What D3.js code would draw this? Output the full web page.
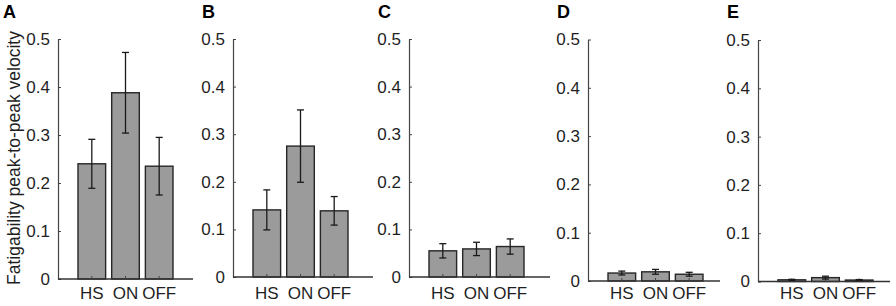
<!DOCTYPE html>
<html>
<head>
<meta charset="utf-8">
<script src="https://cdn.jsdelivr.net/npm/d3@7/dist/d3.min.js"></script>
<style>
  html, body { margin: 0; padding: 0; background: #fff; }
  svg { display: block; font-family: "Liberation Sans", Arial, sans-serif; }
</style>
</head>
<body>
<div id="chart"></div>
<script>
// values (mean, +/- error)
const categories = ['HS', 'ON', 'OFF'];
const panelLetters = ['A', 'B', 'C', 'D', 'E'];
const yTicks = [0, 0.1, 0.2, 0.3, 0.4, 0.5];
const yTitle = 'Fatigability peak-to-peak velocity';

const meanA = [0.240, 0.388, 0.235];
const errA  = [0.051, 0.084, 0.060];
const meanB = [0.141, 0.275, 0.139];
const errB  = [0.042, 0.076, 0.030];
const meanC = [0.055, 0.059, 0.064];
const errC  = [0.015, 0.014, 0.016];
const meanD = [0.0165, 0.019, 0.014];
const errD  = [0.004, 0.005, 0.004];
const meanE = [0.0035, 0.008, 0.003];
const errE  = [0.001, 0.003, 0.001];

const means = [meanA, meanB, meanC, meanD, meanE];
const errs = [errA, errB, errC, errD, errE];

// panel layout (axis x, axis end x, top y, baseline y)
const layout = [
    { x0: 58,  x1: 193, top: 39, bottom: 279 },
    { x0: 233, x1: 373, top: 39, bottom: 277 },
    { x0: 409, x1: 550, top: 39, bottom: 277 },
    { x0: 588, x1: 720, top: 39.5, bottom: 281 },
    { x0: 758, x1: 890, top: 40, bottom: 281.5 }
];
const xLabelTop = 287;

const W = 896, H = 306;
const svg = d3.select('#chart').append('svg')
    .attr('width', W)
    .attr('height', H);

const ink = '#1f1f1f';
const fmt = d => d === 0 ? '0' : d3.format('.1f')(d);

panelLetters.forEach((letter, i) => {
    const L = layout[i];
    const g = svg.append('g');

    const y = d3.scaleLinear().domain([0, 0.5]).range([L.bottom, L.top]);
    const x = d3.scaleBand()
        .domain(categories)
        .range([L.x0 + 20, L.x0 + 115])
        .paddingInner(0.18)
        .paddingOuter(0);

    const rows = categories.map((c, j) => ({ cat: c, mean: means[i][j], err: errs[i][j] }));

    // y axis, ticks pointing inward
    const yAxisG = g.append('g')
        .attr('transform', `translate(${L.x0},0)`)
        .call(d3.axisLeft(y).tickValues(yTicks).tickFormat(fmt)
            .tickSizeInner(-3).tickSizeOuter(0).tickPadding(8));
    yAxisG.select('.domain').attr('stroke', '#444').attr('stroke-width', 1.2);
    yAxisG.selectAll('.tick line').attr('stroke', '#444');
    yAxisG.selectAll('text')
        .attr('fill', ink)
        .style('font-size', '17px');

    // bars
    g.selectAll('.bar').data(rows).enter().append('rect')
        .attr('class', 'bar')
        .attr('x', d => x(d.cat))
        .attr('width', x.bandwidth())
        .attr('y', d => y(d.mean))
        .attr('height', d => y(0) - y(d.mean))
        .attr('fill', '#9b9b9b')
        .attr('stroke', '#262626')
        .attr('stroke-width', 1.4);

    // x axis baseline spans the full panel
    g.append('line')
        .attr('x1', L.x0).attr('x2', L.x1)
        .attr('y1', y(0)).attr('y2', y(0))
        .attr('stroke', '#333')
        .attr('stroke-width', 1.3);

    const xAxisG = g.append('g')
        .attr('transform', `translate(0,${y(0)})`)
        .call(d3.axisBottom(x).tickSizeInner(-3).tickSizeOuter(0)
            .tickPadding(xLabelTop - L.bottom));
    xAxisG.select('.domain').remove();
    xAxisG.selectAll('.tick line').attr('stroke', '#444');
    xAxisG.selectAll('text')
        .attr('fill', ink)
        .style('font-size', '17px');

    // error bars
    const cx = d => x(d.cat) + x.bandwidth() / 2;
    const eb = g.selectAll('.err').data(rows).enter().append('g').attr('class', 'err')
        .attr('stroke', '#1a1a1a')
        .attr('stroke-width', 1.3);
    eb.append('line')
        .attr('x1', cx).attr('x2', cx)
        .attr('y1', d => y(d.mean + d.err))
        .attr('y2', d => y(Math.max(0, d.mean - d.err)));
    eb.append('line')
        .attr('x1', d => cx(d) - 3.5).attr('x2', d => cx(d) + 3.5)
        .attr('y1', d => y(d.mean + d.err)).attr('y2', d => y(d.mean + d.err));
    eb.append('line')
        .attr('x1', d => cx(d) - 3.5).attr('x2', d => cx(d) + 3.5)
        .attr('y1', d => y(Math.max(0, d.mean - d.err))).attr('y2', d => y(Math.max(0, d.mean - d.err)));

    // panel letter
    svg.append('text')
        .attr('x', i === 0 ? 3 : L.x0 - 31)
        .attr('y', 18)
        .attr('fill', '#000')
        .style('font-size', '18px')
        .style('font-weight', 'bold')
        .text(letter);
});

// shared y title on panel A
svg.append('text')
    .attr('transform', `translate(20,${158}) rotate(-90)`)
    .attr('text-anchor', 'middle')
    .attr('fill', ink)
    .style('font-size', '17.5px')
    .text(yTitle);
</script>
</body>
</html>
